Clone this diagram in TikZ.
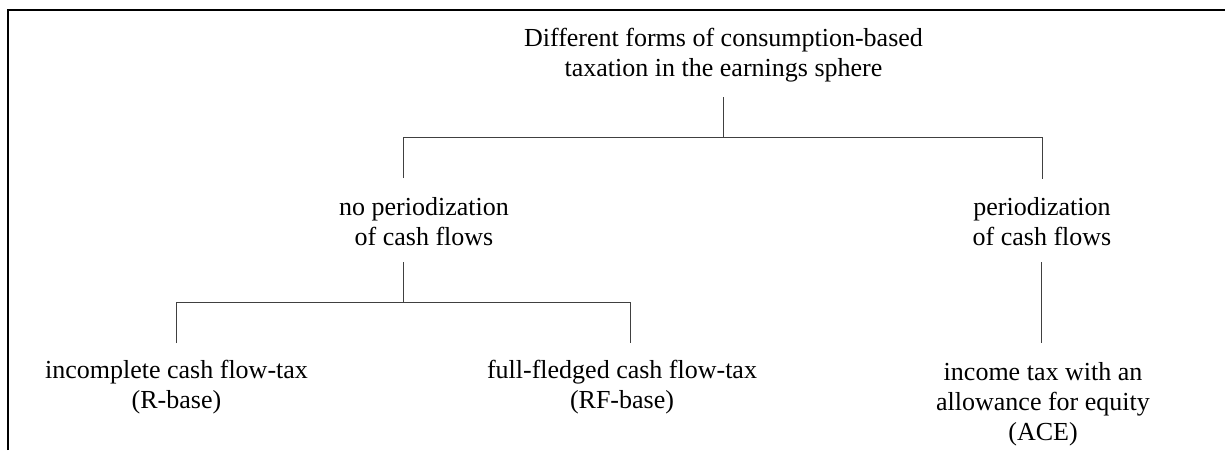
\documentclass[tikz,border=0pt]{standalone}
\usepackage{fontspec}
\setmainfont{Liberation Serif}
\begin{document}
\begin{tikzpicture}[x=0.5pt,y=-0.5pt,
  lbl/.style={inner sep=0pt,outer sep=0pt,align=center,anchor=base,
    font=\fontsize{13}{15}\selectfont},
  conn/.style={line width=0.5pt,draw=black!75},
  frame/.style={line width=1pt,draw=black}]
\useasboundingbox (0,0) rectangle (1225,450);
% frame
\draw[frame] (8,450) -- (8,10) -- (1225,10);
% nodes (base anchor = baseline of the last line)
\node[lbl] (title) at (723.5,76) {Different forms of consumption-based\\taxation in the earnings sphere};
\node[lbl] (nop) at (424,245) {no periodization\\of cash flows};
\node[lbl] (per) at (1042,245) {periodization\\of cash flows};
\node[lbl] (inc) at (176.5,408) {incomplete cash flow-tax\\(R-base)};
\node[lbl] (full) at (622,408) {full-fledged cash flow-tax\\(RF-base)};
\node[lbl] (ace) at (1043,440) {income tax with an\\allowance for equity\\(ACE)};
% connector end points
\coordinate (tB) at (723,97);
\coordinate (tJ) at (723,137);
\coordinate (nopT) at (403,178);
\coordinate (perT) at (1042,179);
\coordinate (nopB) at (403,262);
\coordinate (nopJ) at (403,302);
\coordinate (incT) at (176,343);
\coordinate (fullT) at (630,343);
\coordinate (perB) at (1041,262);
\coordinate (aceT) at (1041,343);
% connectors
\draw[conn] (tB) -- (tJ);
\draw[conn] (nopT) |- (perT |- tJ) -- (perT);
\draw[conn] (nopB) -- (nopJ);
\draw[conn] (incT) |- (fullT |- nopJ) -- (fullT);
\draw[conn] (perB) -- (aceT);
\end{tikzpicture}
\end{document}
